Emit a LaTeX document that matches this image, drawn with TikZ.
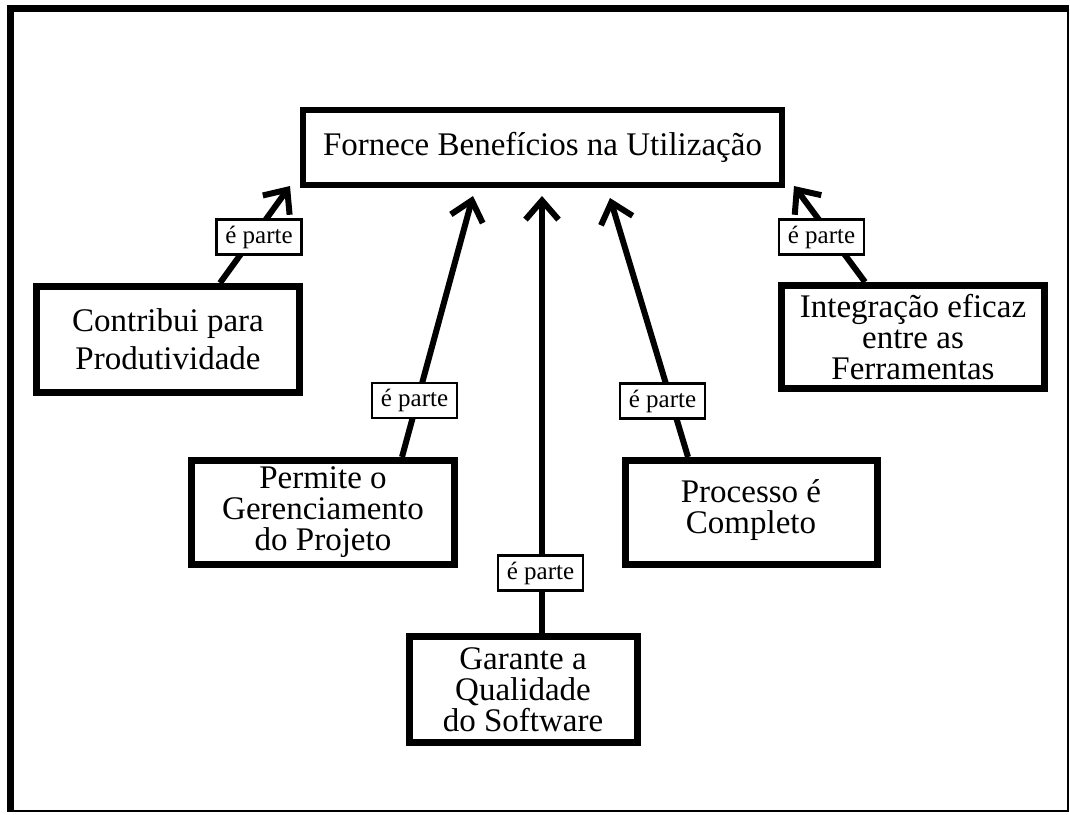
\documentclass[tikz,border=0pt]{standalone}
\usepackage{fontspec}
\setmainfont{Liberation Serif}
\usetikzlibrary{arrows.meta,calc}

\begin{document}
\begin{tikzpicture}[x=1pt,y=-1pt,
  concept/.style={draw, line width=7pt, fill=white, align=center, inner sep=0pt,
                  font=\fontsize{33}{31}\selectfont},
  linkbox/.style={draw, line width=2.5pt, fill=white, inner sep=0pt,
                  minimum width=85pt, minimum height=35pt,
                  font=\fontsize{25}{25}\selectfont},
  link/.style={line width=6pt, -{Straight Barb[length=19pt,width=33pt]}}]

\useasboundingbox (0,0) rectangle (1070,814);
\fill[white] (0,0) rectangle (1070,814);

% page frame: heavy left/top edges, light right/bottom edges
\draw[line width=2pt] (10.5,811) -- (1068,811) -- (1068,8.5);
\draw[line width=7pt] (10.5,812) -- (10.5,8.5) -- (1069,8.5);

% concepts
\node[concept, line width=6pt, minimum width=479pt, minimum height=75pt]
  (top) at (542.5,147.5) {Fornece Benefícios na Utilização};
\node[concept, font=\fontsize{33}{38}\selectfont, minimum width=263pt, minimum height=106pt]
  (contrib) at (168,339.5) {Contribui para\\Produtividade};
\node[concept, minimum width=263pt, minimum height=104pt]
  (permite) at (323,512.5) {Permite o\\Gerenciamento\\do Projeto};
\node[concept, minimum width=228pt, minimum height=106pt]
  (garante) at (523,689.5) {Garante a\\Qualidade\\do Software};
\node[concept, minimum width=252pt, minimum height=104pt, text depth=12pt]
  (processo) at (751,512.5) {Processo é\\Completo};
\node[concept, minimum width=263pt, minimum height=103pt]
  (integ) at (913,337) {Integração eficaz\\entre as\\Ferramentas};

% links to the main concept
\draw[link] ($(contrib.north)+(52,0)$)   -- ($(top.south west)+(-10,-2)$);
\draw[link] ($(permite.north)+(79,0)$)   -- ($(top.south)+(-69.5,8)$);
\draw[link] ($(garante.north)+(19,0)$)   -- ($(top.south)+(-0.5,8)$);
\draw[link] ($(processo.north)+(-63,0)$) -- ($(top.south)+(67.5,10)$);
\draw[link] ($(integ.north)+(-48,0)$)    -- ($(top.south east)+(9,-2)$);

% link labels
\node[linkbox] (l1) at (259,237)     {é parte};
\node[linkbox] (l2) at (414.5,400.5) {é parte};
\node[linkbox] (l3) at (540.5,573)   {é parte};
\node[linkbox] (l4) at (662.5,401)   {é parte};
\node[linkbox] (l5) at (821.5,237)   {é parte};
\end{tikzpicture}
\end{document}
